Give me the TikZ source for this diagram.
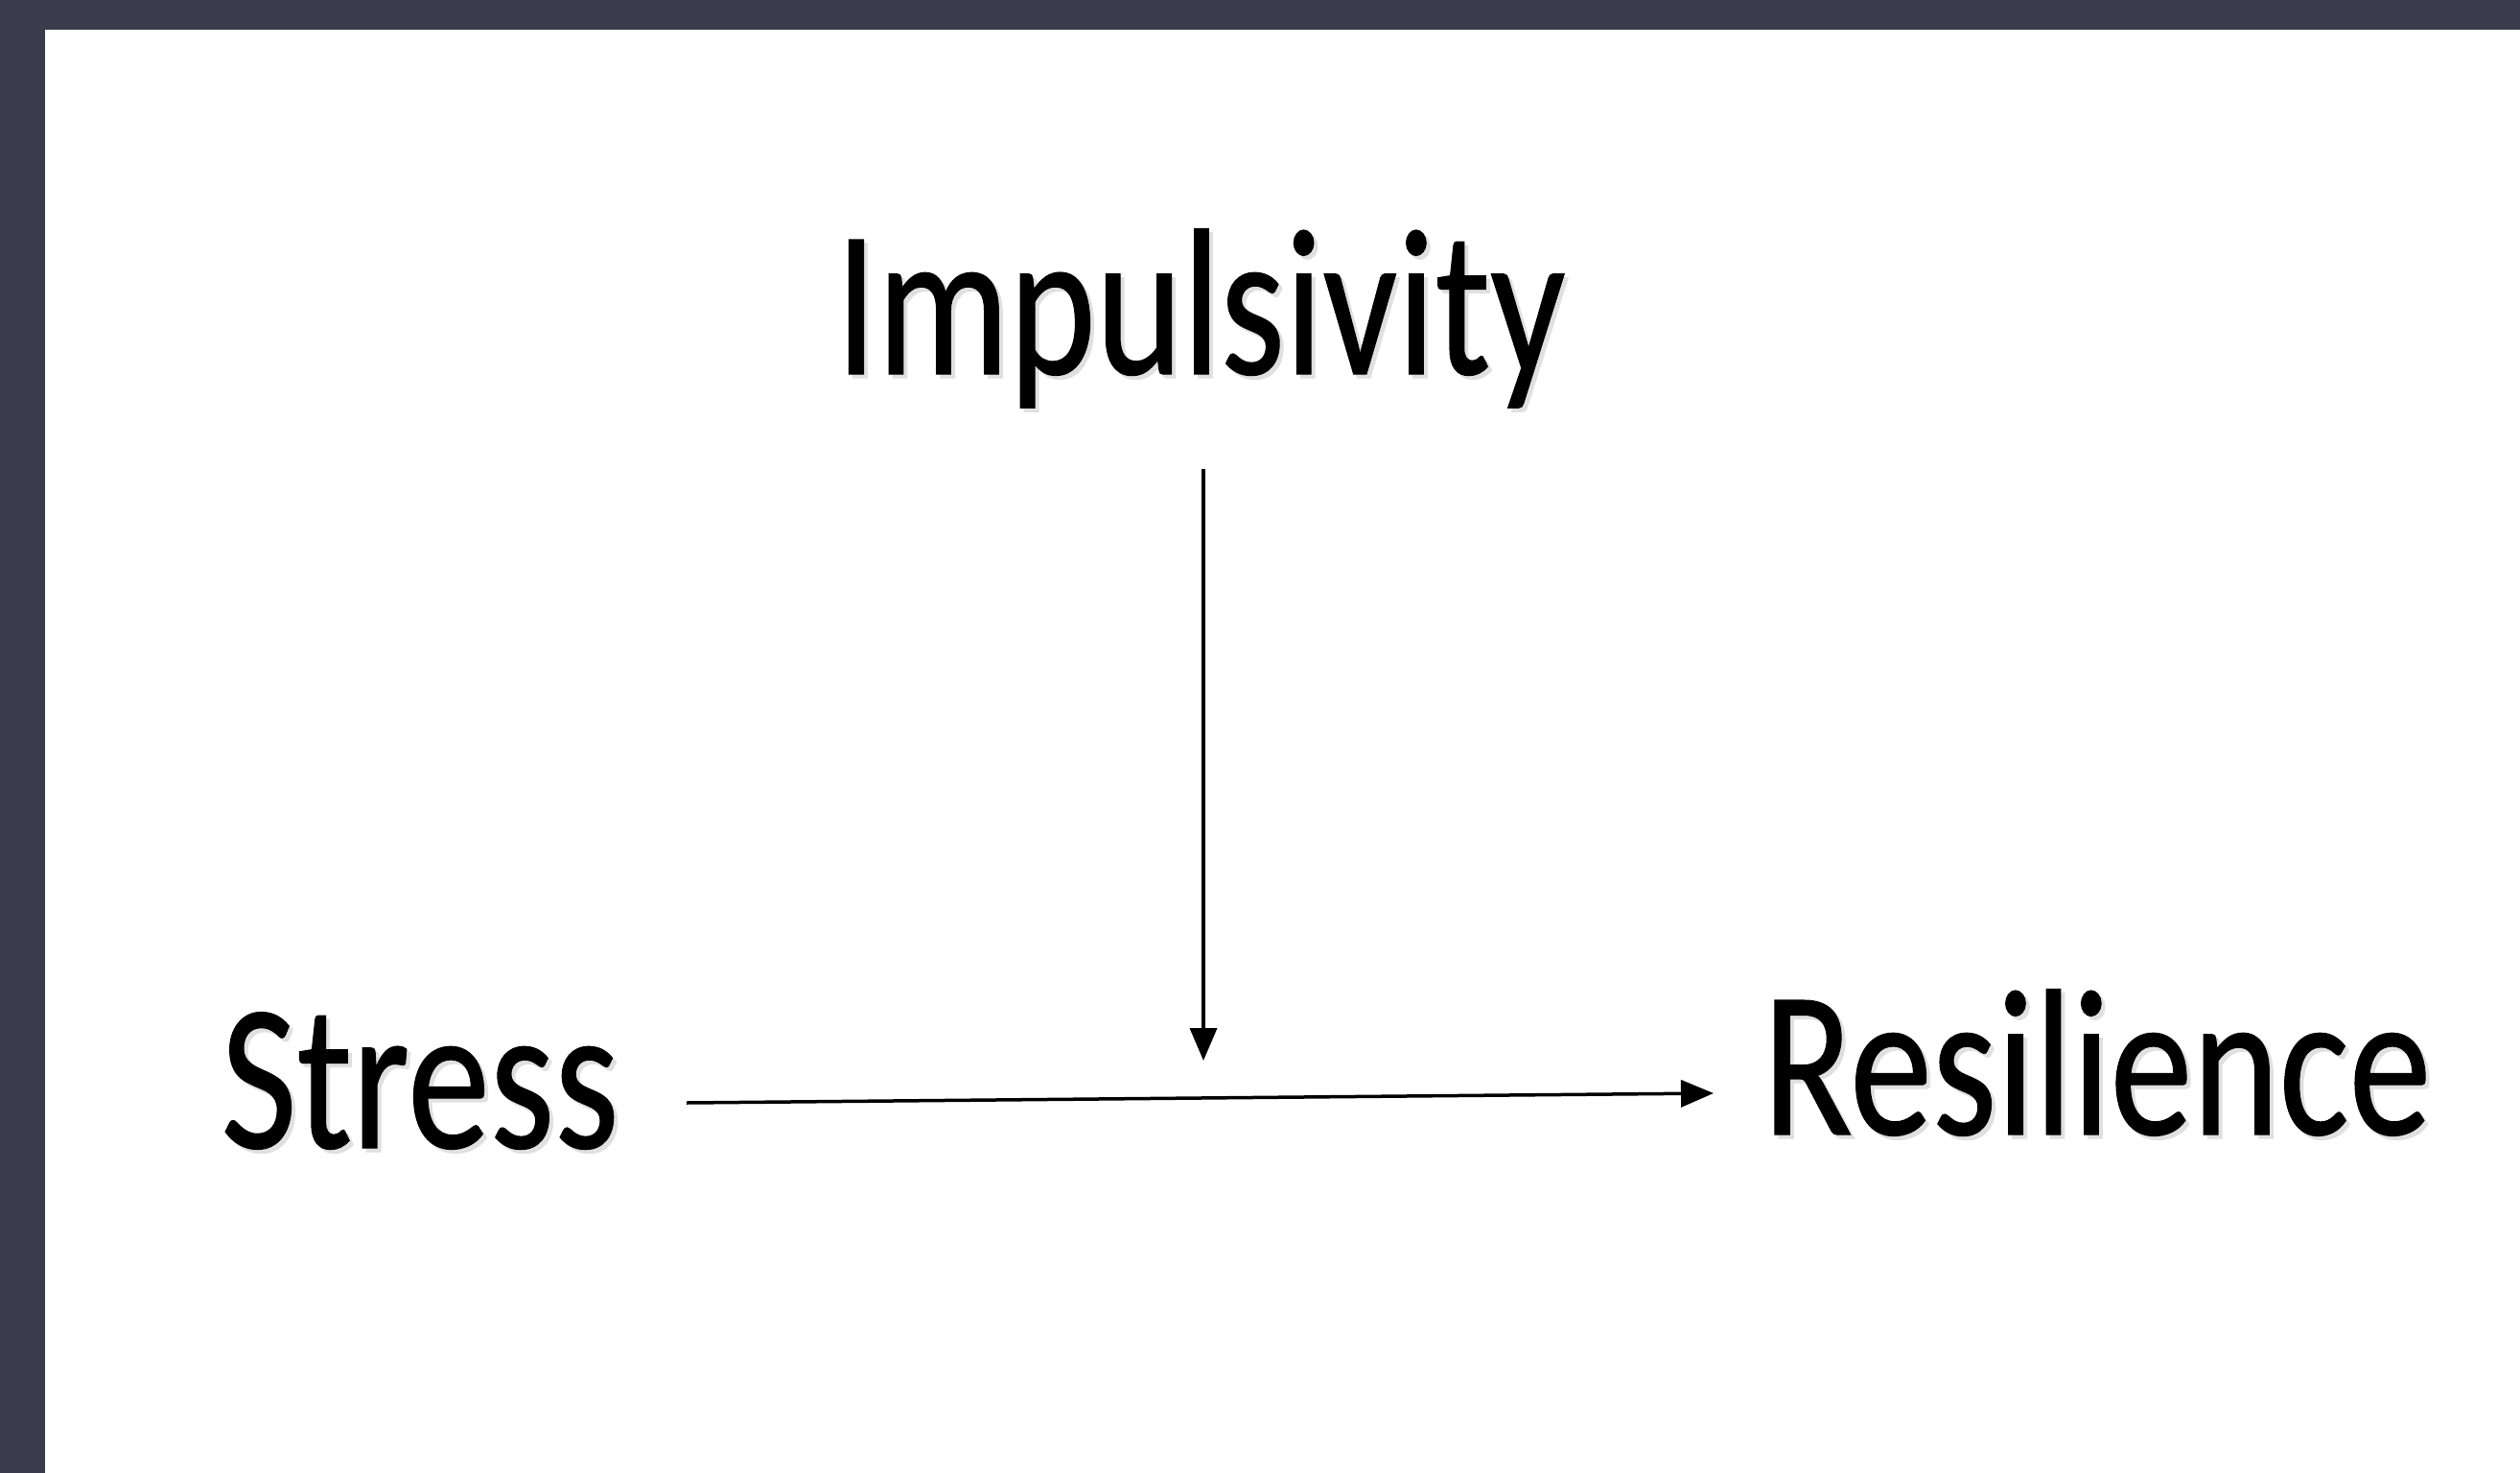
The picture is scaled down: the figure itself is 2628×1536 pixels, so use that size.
\documentclass[tikz,border=0pt]{standalone}
\usepackage{fontspec}
\setmainfont{Carlito}
\newfontfamily\lblfont[FakeBold=0.6]{Carlito}
\usetikzlibrary{arrows.meta}
\definecolor{framecol}{RGB}{60,59,75}
\newcommand\squeezetxt[1]{\scalebox{0.79}[1]{#1}}
\begin{document}
\begin{tikzpicture}[x=1pt,y=-1pt,
  lbl/.style={inner sep=0pt, anchor=base, font=\lblfont\fontsize{218}{250}\selectfont},
  shadowlbl/.style={lbl, text=black!12},
  arr/.style={line width=3.5pt, -{Triangle[length=34pt,width=28pt]}}]
\fill[framecol] (0,0) rectangle (2628,1536);
\fill[white] (47,31) rectangle (2628,1536);
\useasboundingbox (0,0) rectangle (2628,1536);
% shadows
\node[shadowlbl] (impS) at (1256,394) {\squeezetxt{Impulsivity}};
\node[shadowlbl] (strS) at (442,1201) {\squeezetxt{Stress}};
\node[shadowlbl] (resS) at (2191,1187) {\squeezetxt{Resilience}};
% labels
\node[lbl] (imp) at (1252,390) {\squeezetxt{Impulsivity}};
\node[lbl] (str) at (438,1197) {\squeezetxt{Stress}};
\node[lbl] (res) at (2187,1183) {\squeezetxt{Resilience}};
% connectors
\coordinate (vtop) at (1255,489);
\coordinate (vtip) at (1255,1106);
\coordinate (hstart) at (716,1150);
\coordinate (hend) at (1787,1140);
\draw[arr] (vtop) -- (vtip);
\draw[arr] (hstart) -- (hend);
\end{tikzpicture}
\end{document}
